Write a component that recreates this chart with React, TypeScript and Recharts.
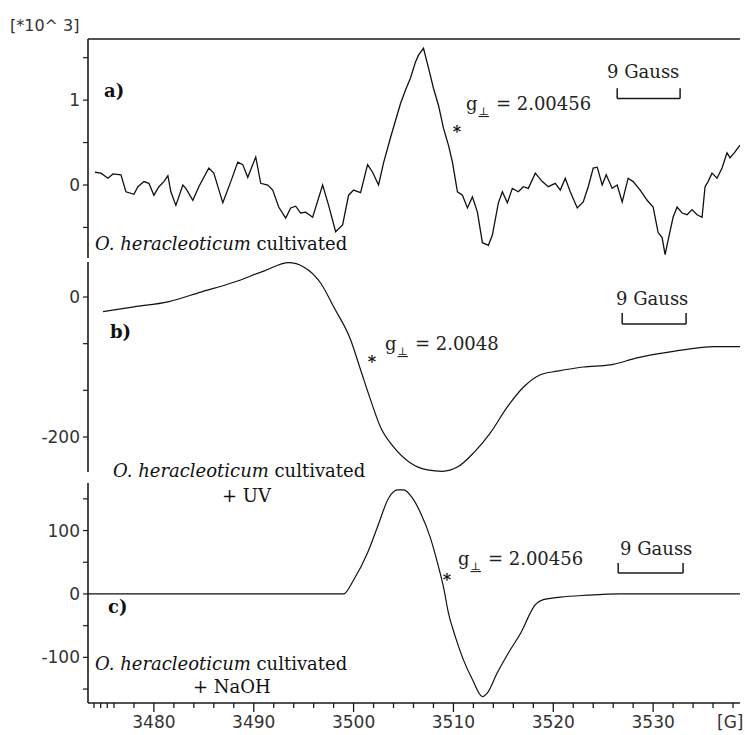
import React from 'react';
import { LineChart, Line, XAxis, YAxis, ReferenceLine } from 'recharts';

// ---------- data ----------
const X_DOMAIN: [number, number] = [3473.4, 3538.7];
const xTicks = [3474, 3474.67, 3475.33, 3476, 3478, 3480, 3482, 3484, 3486, 3488, 3490, 3492, 3494, 3496, 3498, 3500, 3502, 3504, 3506, 3508, 3510, 3512, 3514, 3516, 3518, 3520, 3522, 3524, 3526, 3528, 3530, 3532, 3534, 3536, 3538];
const xMajor = [3480, 3490, 3500, 3510, 3520, 3530];

// panel a) field [G] and intensity [*10^3]
const fieldA = [3474.1, 3474.7, 3475.4, 3475.9, 3476.7, 3477.2, 3478.0, 3478.4, 3479.0, 3479.5, 3480.0, 3480.5, 3481.0, 3481.4, 3481.7, 3482.2, 3482.9, 3483.2, 3483.9, 3484.5, 3485.5, 3486.0, 3486.9, 3487.7, 3488.4, 3488.9, 3489.4, 3490.2, 3490.7, 3491.4, 3491.9, 3492.5, 3493.2, 3493.7, 3494.2, 3494.7, 3495.2, 3495.9, 3496.9, 3497.5, 3498.2, 3498.9, 3499.5, 3500.0, 3500.7, 3501.4, 3501.9, 3502.5, 3503.0, 3503.7, 3504.2, 3504.7, 3505.2, 3505.7, 3506.2, 3506.5, 3507.0, 3507.5, 3508.0, 3508.5, 3509.0, 3509.5, 3509.9, 3510.4, 3510.9, 3511.4, 3511.9, 3512.4, 3512.9, 3513.5, 3513.9, 3514.5, 3514.9, 3515.4, 3515.9, 3516.5, 3517.0, 3517.5, 3518.2, 3518.9, 3519.5, 3520.2, 3520.7, 3521.2, 3521.7, 3522.4, 3523.0, 3523.5, 3524.0, 3524.4, 3524.9, 3525.3, 3525.9, 3526.4, 3526.9, 3527.5, 3528.0, 3528.7, 3529.4, 3530.0, 3530.5, 3530.9, 3531.2, 3531.5, 3532.0, 3532.4, 3532.9, 3533.4, 3533.9, 3534.4, 3534.9, 3535.2, 3535.5, 3535.9, 3536.4, 3536.9, 3537.4, 3537.7, 3538.2, 3538.7];
const intensityA = [0.15, 0.14, 0.08, 0.13, 0.12, -0.08, -0.11, -0.02, 0.04, 0.02, -0.12, -0.02, 0.04, 0.11, -0.08, -0.24, 0.0, -0.04, -0.18, -0.02, 0.2, 0.14, -0.21, 0.04, 0.27, 0.24, 0.09, 0.33, 0.02, 0.0, -0.06, -0.26, -0.39, -0.27, -0.25, -0.33, -0.32, -0.38, 0.0, -0.24, -0.55, -0.47, -0.12, -0.06, -0.09, 0.24, 0.15, 0.0, 0.26, 0.56, 0.76, 0.96, 1.12, 1.26, 1.45, 1.53, 1.61, 1.38, 1.14, 0.94, 0.67, 0.47, 0.27, -0.08, -0.12, -0.27, -0.14, -0.32, -0.68, -0.71, -0.59, -0.21, -0.08, -0.21, -0.04, -0.08, -0.02, -0.04, 0.14, 0.04, -0.02, 0.02, -0.06, 0.08, -0.08, -0.27, -0.2, -0.02, 0.2, 0.21, 0.0, 0.12, -0.04, 0.0, -0.2, 0.08, 0.04, -0.06, -0.18, -0.26, -0.56, -0.62, -0.82, -0.65, -0.38, -0.26, -0.33, -0.35, -0.29, -0.35, -0.38, -0.02, 0.04, 0.14, 0.08, 0.2, 0.38, 0.32, 0.39, 0.47];

// panel b)
const fieldB = [3474.9, 3478.0, 3481.4, 3484.7, 3488.0, 3491.0, 3493.5, 3495.0, 3496.7, 3498.0, 3499.7, 3500.7, 3501.7, 3502.7, 3504.0, 3505.7, 3507.4, 3508.9, 3510.4, 3512.0, 3513.7, 3515.4, 3517.0, 3518.7, 3520.4, 3523.0, 3525.7, 3528.4, 3531.0, 3533.7, 3536.0, 3538.7];
const intensityB = [-21, -14, -7, 7, 21, 37, 49, 43, 20, -14, -61, -104, -147, -186, -214, -237, -247, -249, -243, -223, -194, -157, -129, -111, -106, -100, -97, -87, -80, -74, -71, -71];

// panel c)
const fieldC = [3473.4, 3499.0, 3500.0, 3501.4, 3502.4, 3503.5, 3504.4, 3505.0, 3505.9, 3506.7, 3507.7, 3508.5, 3509.0, 3509.5, 3510.2, 3511.0, 3511.9, 3512.9, 3513.4, 3514.4, 3515.7, 3516.9, 3517.6, 3518.2, 3519.0, 3520.7, 3523.4, 3526.7, 3538.7];
const intensityC = [0, 0, 22, 65, 106, 151, 164, 164, 151, 128, 88, 43, 11, -30, -68, -104, -135, -162, -156, -124, -88, -57, -33, -17, -9, -5, -2, 0, 0];

// y-axis ticks
const yTicksA = [-0.5, 0, 0.5, 1, 1.5];
const yLabelsA = [0, 1];
const yTicksB = [0, -66.67, -133.33, -200];
const yLabelsB = [0, -200];
const yTicksC = [-150, -100, -50, 0, 50, 100, 150];
const yLabelsC = [-100, 0, 100];

// domains
const yDomainA: [number, number] = [-0.86, 1.72];
const yDomainB: [number, number] = [-250, 50];
const yDomainC: [number, number] = [-172, 175];

// "9 Gauss" scale bars: [xStart, xEnd, yBar, yTop]
const scaleBarA = [3526.4, 3532.7, 1.02, 1.14];
const scaleBarB = [3526.9, 3533.3, -38.6, -22.9];
const scaleBarC = [3526.5, 3533.0, 33, 49];

const dataA = fieldA.map((f, i) => ({ field: f, v: intensityA[i] }));
const dataB = fieldB.map((f, i) => ({ field: f, v: intensityB[i] }));
const dataC = fieldC.map((f, i) => ({ field: f, v: intensityC[i] }));

// ---------- styles ----------
const INK = '#1a1a1a';
const TICK_FONT = { fill: '#333', fontSize: 17, fontFamily: 'DejaVu Sans' };
const SERIF = 'DejaVu Serif';

const XTick = (props: any) => {
  const { x, y, payload } = props;
  const v = payload.value;
  const major = xMajor.includes(v);
  return (
    <g>
      <line x1={x} x2={x} y1={y} y2={y + (major ? 9 : 5)} stroke={INK} strokeWidth={1.3} />
      {major && (
        <text x={x} y={y + 25} textAnchor="middle" {...TICK_FONT}>
          {v}
        </text>
      )}
    </g>
  );
};

const fmt = (labels: number[]) => (v: number) => (labels.includes(v) ? String(v) : '');

const yAxisCommon = {
  type: 'number' as const,
  width: 60,
  allowDataOverflow: true,
  axisLine: { stroke: INK, strokeWidth: 1.6 },
  tickLine: { stroke: INK, strokeWidth: 1.2 },
  tickSize: 5,
  tickMargin: 3,
  tick: TICK_FONT,
  interval: 0 as const,
};

const ScaleBar = (bar: number[]) => [
  <ReferenceLine key="h" segment={[{ x: bar[0], y: bar[2] }, { x: bar[1], y: bar[2] }]} stroke={INK} strokeWidth={1.5} />,
  <ReferenceLine key="l" segment={[{ x: bar[0], y: bar[2] }, { x: bar[0], y: bar[3] }]} stroke={INK} strokeWidth={1.5} />,
  <ReferenceLine key="r" segment={[{ x: bar[1], y: bar[2] }, { x: bar[1], y: bar[3] }]} stroke={INK} strokeWidth={1.5} />,
];

const GLabel = ({ x, y, value }: { x: number; y: number; value: string }) => (
  <text x={x} y={y} fontFamily={SERIF} fontSize={18} fill="#222">
    g
    <tspan fontSize={11} dy={5} dx={1} textDecoration="underline">⊥</tspan>
    <tspan dy={-5} dx={7}>= {value}</tspan>
  </text>
);

const Species = ({ x, y }: { x: number; y: number }) => (
  <text x={x} y={y} fontFamily={SERIF} fontSize={18} fill="#111">
    <tspan fontStyle="italic">O. heracleoticum</tspan> cultivated
  </text>
);

const Star = ({ x, y }: { x: number; y: number }) => (
  <text x={x} y={y} textAnchor="middle" fontFamily={SERIF} fontWeight="bold" fontSize={16} fill="#111">*</text>
);

export default function App() {
  return (
    <div style={{ position: 'absolute', left: 0, top: 0, width: 745, height: 735, background: '#fff', overflow: 'hidden' }}>
      {/* panel a */}
      <div style={{ position: 'absolute', left: 0, top: 0 }}>
        <LineChart width={745} height={262} data={dataA} margin={{ top: 39, right: 5, bottom: 4, left: 28 }}>
          <XAxis type="number" dataKey="field" domain={X_DOMAIN} hide allowDataOverflow />
          <YAxis {...yAxisCommon} domain={yDomainA} ticks={yTicksA} tickFormatter={fmt(yLabelsA)} />
          <ReferenceLine y={yDomainA[1]} stroke={INK} strokeWidth={1.6} />
          {ScaleBar(scaleBarA)}
          <Line type="linear" dataKey="v" stroke="#111" strokeWidth={1.3} dot={false} isAnimationActive={false} />
        </LineChart>
      </div>
      {/* panel b */}
      <div style={{ position: 'absolute', left: 0, top: 260 }}>
        <LineChart width={745} height={214} data={dataB} margin={{ top: 2, right: 5, bottom: 2, left: 28 }}>
          <XAxis type="number" dataKey="field" domain={X_DOMAIN} hide allowDataOverflow />
          <YAxis {...yAxisCommon} domain={yDomainB} ticks={yTicksB} tickFormatter={fmt(yLabelsB)} />
          {ScaleBar(scaleBarB)}
          <Line type="monotone" dataKey="v" stroke="#111" strokeWidth={1.2} dot={false} isAnimationActive={false} />
        </LineChart>
      </div>
      {/* panel c */}
      <div style={{ position: 'absolute', left: 0, top: 481 }}>
        <LineChart width={745} height={254} data={dataC} margin={{ top: 2, right: 5, bottom: 0, left: 28 }}>
          <XAxis
            type="number"
            dataKey="field"
            domain={X_DOMAIN}
            allowDataOverflow
            ticks={xTicks}
            interval={0}
            height={32}
            tickSize={0}
            tickMargin={0}
            tickLine={false}
            axisLine={{ stroke: INK, strokeWidth: 1.6 }}
            tick={<XTick />}
          />
          <YAxis {...yAxisCommon} domain={yDomainC} ticks={yTicksC} tickFormatter={fmt(yLabelsC)} />
          {ScaleBar(scaleBarC)}
          <Line type="monotone" dataKey="v" stroke="#111" strokeWidth={1.2} dot={false} isAnimationActive={false} />
        </LineChart>
      </div>
      {/* annotations */}
      <svg width={745} height={735} style={{ position: 'absolute', left: 0, top: 0, pointerEvents: 'none' }}>
        <text x={10} y={31} fontFamily="DejaVu Sans" fontSize={16} fill="#333">[*10^ 3]</text>
        <text x={717} y={728} fontFamily="DejaVu Sans" fontSize={17} fill="#333">[G]</text>

        <text x={104} y={97} fontFamily={SERIF} fontWeight="bold" fontSize={18} fill="#111">a)</text>
        <Star x={457} y={137} />
        <GLabel x={466} y={110} value="2.00456" />
        <text x={607} y={78} fontFamily={SERIF} fontSize={18} fill="#222">9 Gauss</text>
        <Species x={95} y={250} />

        <text x={110} y={338} fontFamily={SERIF} fontWeight="bold" fontSize={18} fill="#111">b)</text>
        <Star x={372} y={367} />
        <GLabel x={385} y={350} value="2.0048" />
        <text x={616} y={305} fontFamily={SERIF} fontSize={18} fill="#222">9 Gauss</text>
        <Species x={113} y={477} />
        <text x={222} y={502} fontFamily={SERIF} fontSize={18} fill="#111">+ UV</text>

        <text x={108} y={613} fontFamily={SERIF} fontWeight="bold" fontSize={18} fill="#111">c)</text>
        <Star x={447} y={585} />
        <GLabel x={458} y={565} value="2.00456" />
        <text x={620} y={555} fontFamily={SERIF} fontSize={18} fill="#222">9 Gauss</text>
        <Species x={95} y={670} />
        <text x={193} y={693} fontFamily={SERIF} fontSize={18} fill="#111">+ NaOH</text>
      </svg>
    </div>
  );
}
